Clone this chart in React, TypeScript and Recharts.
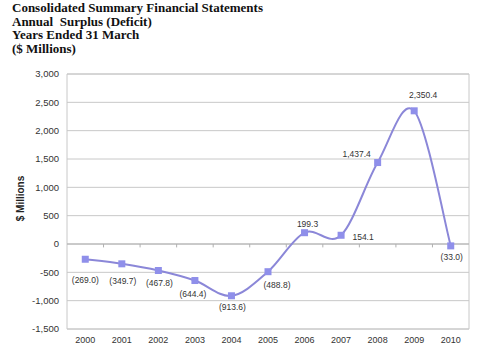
import React from 'react';
import { ComposedChart, Line, XAxis, YAxis, CartesianGrid, ReferenceLine, ReferenceArea, LabelList } from 'recharts';

const years = ['2000', '2001', '2002', '2003', '2004', '2005', '2006', '2007', '2008', '2009', '2010'];
const surplus = [-269.0, -349.7, -467.8, -644.4, -913.6, -488.8, 199.3, 154.1, 1437.4, 2350.4, -33.0];
const yTicks = [-1500, -1000, -500, 0, 500, 1000, 1500, 2000, 2500, 3000];
const titleLines = [
  'Consolidated Summary Financial Statements',
  'Annual  Surplus (Deficit)',
  'Years Ended 31 March',
  '($ Millions)',
];
// label offsets (dx, dy) relative to each point
const labelOffsets: [number, number][] = [
  [0, 21], [1, 17], [1, 12], [-2, 13], [1, 11], [9, 13], [3, -9], [22, 2], [-21, -9], [9, -16], [1, 11],
];

const data = years.map((y, i) => ({ x: i, v: surplus[i] }));

const fmt = (v: number) => {
  const s = Math.abs(v).toLocaleString('en-US', { minimumFractionDigits: 1, maximumFractionDigits: 1 });
  return v < 0 ? `(${s})` : s;
};

// Catmull-Rom style smoothing, similar to spreadsheet smoothed lines
const smoothCurve: any = (context: any) => {
  let pts: number[][] = [];
  return {
    areaStart() {},
    areaEnd() {},
    lineStart() { pts = []; },
    point(x: number, y: number) { pts.push([+x, +y]); },
    lineEnd() {
      if (!pts.length) return;
      context.moveTo(pts[0][0], pts[0][1]);
      for (let i = 0; i < pts.length - 1; i++) {
        const p0 = pts[i - 1] || pts[i];
        const p1 = pts[i];
        const p2 = pts[i + 1];
        const p3 = pts[i + 2] || pts[i + 1];
        const c1x = p1[0] + (p2[0] - p0[0]) / 6;
        const c1y = p1[1] + (p2[1] - p0[1]) / 6;
        const c2x = p2[0] - (p3[0] - p1[0]) / 6;
        const c2y = p2[1] - (p3[1] - p1[1]) / 6;
        context.bezierCurveTo(c1x, c1y, c2x, c2y, p2[0], p2[1]);
      }
    },
  };
};

const SquareDot = (props: any) => {
  const { cx, cy } = props;
  if (cx == null || cy == null) return null;
  return <rect x={cx - 3.5} y={cy - 3.5} width={7} height={7} fill="#8F8FEA" />;
};

const ValueLabel = (props: any) => {
  const { x, y, value, index } = props;
  const [dx, dy] = labelOffsets[index] || [0, 0];
  return (
    <text x={x + dx} y={y + dy} textAnchor="middle" dominantBaseline="central"
      fontFamily="Liberation Sans, Arial, sans-serif" fontSize={8.5} fill="#333">
      {fmt(value)}
    </text>
  );
};

const boundaryTicks = years.slice(1).map((_, i) => i + 0.5);

export default function App() {
  return (
    <div style={{ position: 'absolute', left: 0, top: 0, width: 481, height: 349, background: '#fff' }}>
      <ComposedChart width={481} height={349} data={data} margin={{ top: 74, right: 12, bottom: 0, left: 0 }}
        style={{ position: 'absolute', left: 0, top: 0 }}>
        <CartesianGrid vertical={false} stroke="#c8c8c8" />
        <ReferenceArea x1={-0.5} x2={10.5} y1={-1500} y2={3000} fill="none" stroke="#c8c8c8" ifOverflow="visible" />
        <XAxis dataKey="x" type="number" domain={[-0.5, 10.5]} ticks={years.map((_, i) => i)}
          tickFormatter={(i: number) => years[i]} axisLine={false} tickLine={false} height={20}
          tick={{ fontFamily: 'Liberation Sans, Arial, sans-serif', fontSize: 9, fill: '#333' }} tickMargin={2} interval={0} />
        <YAxis type="number" domain={[-1500, 3000]} ticks={yTicks} width={67} axisLine={false} tickLine={false}
          tickFormatter={(v: number) => v.toLocaleString('en-US')}
          tick={{ fontFamily: 'Liberation Sans, Arial, sans-serif', fontSize: 9.5, fill: '#333' }} tickMargin={2}
          label={(p: any) => {
            const vb = p.viewBox || {};
            const cx = 20;
            const cy = (vb.y ?? 74) + (vb.height ?? 255) / 2 - 3;
            return (
              <text x={cx} y={cy} transform={`rotate(-90 ${cx} ${cy})`} textAnchor="middle" dominantBaseline="central"
                fontFamily="Liberation Sans, Arial, sans-serif" fontSize={10} fontWeight="bold" fill="#222">
                $ Millions
              </text>
            );
          }} />
        <ReferenceLine y={0} stroke="#b0b0b0" />
        {boundaryTicks.map((b) => (
          <ReferenceLine key={b} segment={[{ x: b, y: 0 }, { x: b, y: -60 }]} stroke="#b0b0b0" />
        ))}
        <Line dataKey="v" type={smoothCurve} stroke="#8B87D8" strokeWidth={2} dot={<SquareDot />} activeDot={false}
          isAnimationActive={false}>
          <LabelList dataKey="v" content={<ValueLabel />} />
        </Line>
      </ComposedChart>
      <div style={{ position: 'absolute', left: 12, top: 1, fontFamily: '"Liberation Serif", "Times New Roman", serif', fontWeight: 'bold', fontSize: 13, lineHeight: '13.5px', color: '#111', whiteSpace: 'pre' }}>
        {titleLines.map((t) => (<div key={t}>{t}</div>))}
      </div>
    </div>
  );
}
